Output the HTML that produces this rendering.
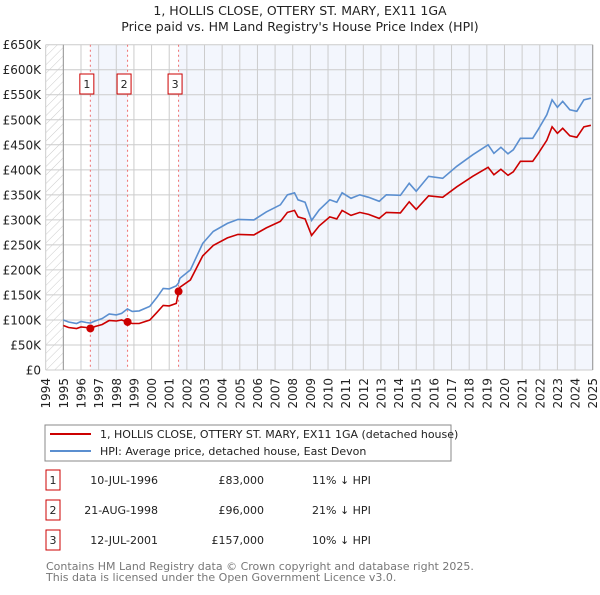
<!DOCTYPE html>
<html><head><meta charset="utf-8"><style>
body{margin:0;background:#fff;font-family:"Liberation Sans","DejaVu Sans",sans-serif;}
svg text{font-family:"DejaVu Sans","Liberation Sans",sans-serif;}
</style></head><body>
<svg id="c" width="600" height="590" xmlns="http://www.w3.org/2000/svg">
<defs><pattern id="hatch" width="6" height="6" patternUnits="userSpaceOnUse" patternTransform="rotate(45)"><line x1="0" y1="0" x2="0" y2="6" stroke="#ccc" stroke-width="1"/></pattern></defs>
<text x="300" y="15" text-anchor="middle" font-size="12.5" fill="#222">1, HOLLIS CLOSE, OTTERY ST. MARY, EX11 1GA</text>
<text x="300" y="31" text-anchor="middle" font-size="12.5" fill="#222">Price paid vs. HM Land Registry's House Price Index (HPI)</text>
<g id="plot"></g>
<g>
<rect x="45" y="425" width="406" height="36" fill="#fff" stroke="#888" stroke-width="1"/>
<line x1="50" y1="434" x2="91" y2="434" stroke="#cc0000" stroke-width="2"/>
<text x="100" y="438" font-size="11" fill="#222">1, HOLLIS CLOSE, OTTERY ST. MARY, EX11 1GA (detached house)</text>
<line x1="50" y1="451" x2="91" y2="451" stroke="#5b8fd0" stroke-width="2"/>
<text x="100" y="455" font-size="11" fill="#222">HPI: Average price, detached house, East Devon</text>
</g>
<g id="table" font-size="11" fill="#222"></g>
<text x="46" y="570" font-size="11" fill="#777">Contains HM Land Registry data © Crown copyright and database right 2025.</text>
<text x="46" y="581" font-size="11" fill="#777">This data is licensed under the Open Government Licence v3.0.</text>
</svg>
<script>
const hpiYears=[1995.0,1995.3,1995.75,1996.0,1996.3,1996.53,1996.8,1997.2,1997.6,1998.0,1998.3,1998.63,1998.9,1999.3,1999.9,2000.3,2000.66,2001.0,2001.4,2001.53,2001.6,2002.2,2002.9,2003.5,2004.3,2004.9,2005.8,2006.5,2007.3,2007.7,2008.1,2008.3,2008.7,2009.07,2009.5,2010.1,2010.5,2010.8,2011.3,2011.8,2012.3,2012.9,2013.3,2014.1,2014.6,2015.0,2015.7,2016.5,2017.3,2018.2,2019.07,2019.4,2019.8,2020.2,2020.5,2020.9,2021.6,2021.9,2022.4,2022.7,2023.0,2023.3,2023.7,2024.1,2024.5,2024.9];
const hpiValues=[100,96,93,97,95,94,98,103,112,110,113,122,117,118,127,145,163,162,168,174,183,200,253,277,293,301,300,316,330,350,354,340,335,299,320,340,335,354,343,350,345,337,350,349,373,357,387,383,407,430,450,433,445,432,440,463,463,480,510,540,525,537,520,517,540,543];
const propertyValues=[89,85,83,86,85,83,87,91,99,98,100,96,93,93,100,115,129,128,133,157,165,180,228,249,264,271,270,284,297,315,319,306,302,269,288,306,302,319,309,315,311,303,315,314,336,321,348,345,366,387,405,390,401,389,396,417,417,432,459,486,473,483,468,465,486,489];
const saleYears=[1996.53,1998.64,2001.53];
const salePrices=[83,96,157];
const saleDates=["10-JUL-1996","21-AUG-1998","12-JUL-2001"];
const salePriceLabels=["£83,000","£96,000","£157,000"];
const saleHpiLabels=["11% ↓ HPI","21% ↓ HPI","10% ↓ HPI"];
const yTicks=[0,50,100,150,200,250,300,350,400,450,500,550,600,650];
const yTickLabels=["£0","£50K","£100K","£150K","£200K","£250K","£300K","£350K","£400K","£450K","£500K","£550K","£600K","£650K"];
const xTicks=[1994,1995,1996,1997,1998,1999,2000,2001,2002,2003,2004,2005,2006,2007,2008,2009,2010,2011,2012,2013,2014,2015,2016,2017,2018,2019,2020,2021,2022,2023,2024,2025];

const X0=45.7,X1=592.7,Y0=370,Y1=44.7,xmin=1994,xmax=2025,ymax=650;
const sx=v=>X0+(v-xmin)/(xmax-xmin)*(X1-X0);
const sy=v=>Y0-v/ymax*(Y0-Y1);
const NS="http://www.w3.org/2000/svg";
const plot=document.getElementById('plot');
function mk(tag,attrs,parent){const e=document.createElementNS(NS,tag);for(const k in attrs)e.setAttribute(k,attrs[k]);(parent||plot).appendChild(e);return e;}

const bg=mk('rect',{x:X0,y:Y1,width:X1-X0,height:Y0-Y1,fill:'#fff'});


const sh1=mk('rect',{x:sx(saleYears[0]),y:Y1,width:sx(saleYears[1])-sx(saleYears[0]),height:Y0-Y1,fill:'#f3f6fd'});


const sh3=mk('rect',{x:sx(saleYears[2]),y:Y1,width:X1-sx(saleYears[2]),height:Y0-Y1,fill:'#f3f6fd'});


const hat=mk('rect',{x:X0,y:Y1,width:sx(1995)-X0,height:Y0-Y1,fill:'url(#hatch)'});



yTicks.forEach((t,i)=>{
 const l=mk('line',{x1:X0,x2:X1,y1:sy(t),y2:sy(t),stroke:'#ccc','stroke-width':1});
 
 
 const tx=mk('text',{x:41,y:sy(t)+4.5,'text-anchor':'end','font-size':12,fill:'#222'});
 tx.textContent=yTickLabels[i];
 
 
});
xTicks.forEach(t=>{
 const l=mk('line',{x1:sx(t),x2:sx(t),y1:Y1,y2:Y0,stroke:'#ccc','stroke-width':1});
 
 
 const tx=mk('text',{x:0,y:0,'text-anchor':'end','font-size':12,fill:'#222',transform:`translate(${sx(t)+4.5},378) rotate(-90)`});
 tx.textContent=t;
 
 
});
const ax=mk('line',{x1:sx(1995),x2:sx(1995),y1:Y1,y2:Y0,stroke:'#999','stroke-width':1});


const ax2=mk('line',{x1:X1,x2:X1,y1:Y1,y2:Y0,stroke:'#999','stroke-width':1});



saleYears.forEach((s,i)=>{
 const l=mk('line',{x1:sx(s),x2:sx(s),y1:Y1,y2:Y0,stroke:'#f07070','stroke-width':1,'stroke-dasharray':'2,3'});
 
 
 const r=mk('rect',{x:sx(s)-10.5,y:74,width:14,height:20,fill:'#fff',stroke:'#cc0000','stroke-width':1});
 
 
 const t=mk('text',{x:sx(s)-3.5,y:88,'text-anchor':'middle','font-size':11,fill:'#222'});
 t.textContent=i+1;
 
 
});

const hp=mk('path',{d:hpiYears.map((y,i)=>(i?'L':'M')+sx(y).toFixed(1)+','+sy(hpiValues[i]).toFixed(1)).join(''),fill:'none',stroke:'#5b8fd0','stroke-width':1.6});


const pp=mk('path',{d:hpiYears.map((y,i)=>(i?'L':'M')+sx(y).toFixed(1)+','+sy(propertyValues[i]).toFixed(1)).join(''),fill:'none',stroke:'#cc0000','stroke-width':1.6});


saleYears.forEach((s,i)=>{
 const c=mk('circle',{cx:sx(s),cy:sy(salePrices[i]),r:4,fill:'#cc0000'});
 
 
});

const tb=document.getElementById('table');
saleDates.forEach((d,i)=>{
 const y=483+i*30;
 const r=mk('rect',{x:46,y:y-13,width:14,height:20,fill:'#fff',stroke:'#cc0000','stroke-width':1},tb);
 
 
 const n=mk('text',{x:53,y:y+1,'text-anchor':'middle'},tb);n.textContent=i+1;
 
 
 const a=mk('text',{x:158,y:y+1,'text-anchor':'end'},tb);a.textContent=d;
 
 
 const b=mk('text',{x:264,y:y+1,'text-anchor':'end'},tb);b.textContent=salePriceLabels[i];
 
 
 const c=mk('text',{x:312,y:y+1},tb);c.textContent=saleHpiLabels[i];
 
 
});
</script>
</body></html>
